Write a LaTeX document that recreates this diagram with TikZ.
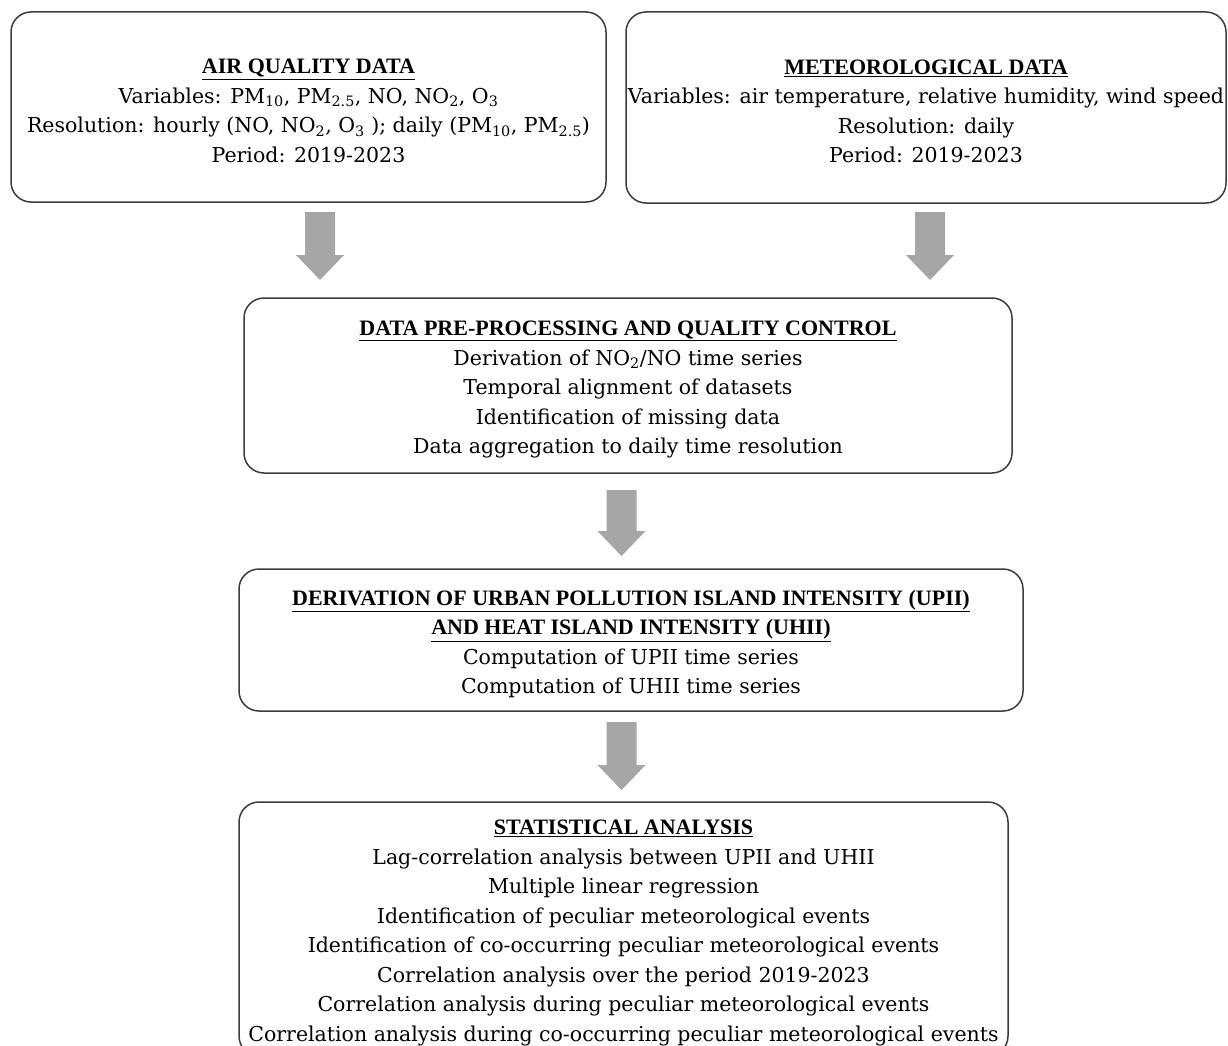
\documentclass[tikz,border=0pt]{standalone}
\usepackage{fontspec}
\setmainfont{DejaVu Serif}
\newfontfamily\titlefont{Liberation Serif}
\usetikzlibrary{calc}
\definecolor{arrowgray}{RGB}{166,166,166}
\definecolor{boxline}{RGB}{60,60,60}
\newcommand\ttl[1]{{\titlefont\bfseries\fontsize{22}{29.5}\selectfont\underline{#1}}}
\newcommand\garrow[2]{\fill[arrowgray] ($(#1)+(-15,0)$) -- ($(#1)+(15,0)$) -- ($(#2)+(15,-25)$) -- ($(#2)+(24,-25)$) -- (#2) -- ($(#2)+(-24,-25)$) -- ($(#2)+(-15,-25)$) -- cycle;}
\begin{document}
\begin{tikzpicture}[x=1pt,y=-1pt,
  box/.style={draw=boxline, line width=1.5pt, rounded corners=20pt, inner sep=0pt},
  txt/.style={align=center, font=\fontsize{20.5}{29.5}\selectfont, inner sep=0pt, yshift=-4pt}]
\useasboundingbox (0,0) rectangle (1228,1046);
\node[box, minimum width=595pt, minimum height=190pt] (air) at (308.5,107) {};
\node[box, minimum width=600pt, minimum height=191pt] (met) at (926,107.5) {};
\node[box, minimum width=768pt, minimum height=175pt] (pre) at (628,385.5) {};
\node[box, minimum width=784pt, minimum height=142pt] (der) at (631,640) {};
\node[box, minimum width=769pt, minimum height=254pt] (sta) at (623.5,929) {};
\node[txt] (airt) at (air.center) {\ttl{AIR QUALITY DATA}\\
Variables: PM\textsubscript{10}, PM\textsubscript{2.5}, NO, NO\textsubscript{2}, O\textsubscript{3}\\
Resolution: hourly (NO, NO\textsubscript{2}, O\textsubscript{3} ); daily (PM\textsubscript{10}, PM\textsubscript{2.5})\\
Period: 2019-2023};
\node[txt] (mett) at (met.center) {\ttl{METEOROLOGICAL DATA}\\
Variables: air temperature, relative humidity, wind speed\\
Resolution: daily\\
Period: 2019-2023};
\node[txt] (pret) at (pre.center) {\ttl{DATA PRE-PROCESSING AND QUALITY CONTROL}\\
Derivation of NO\textsubscript{2}/NO time series\\
Temporal alignment of datasets\\
Identification of missing data\\
Data aggregation to daily time resolution};
\node[txt] (dert) at (der.center) {\ttl{DERIVATION OF URBAN POLLUTION ISLAND INTENSITY (UPII)}\\
\ttl{AND HEAT ISLAND INTENSITY (UHII)}\\
Computation of UPII time series\\
Computation of UHII time series};
\node[txt] (stat) at (sta.center) {\ttl{STATISTICAL ANALYSIS}\\
Lag-correlation analysis between UPII and UHII\\
Multiple linear regression\\
Identification of peculiar meteorological events\\
Identification of co-occurring peculiar meteorological events\\
Correlation analysis over the period 2019-2023\\
Correlation analysis during peculiar meteorological events\\
Correlation analysis during co-occurring peculiar meteorological events};
\coordinate (a1s) at (320,212);
\coordinate (a1e) at (320,280);
\coordinate (a2s) at (930,212);
\coordinate (a2e) at (930,280);
\coordinate (a3s) at (621.5,490);
\coordinate (a3e) at (621.5,556);
\coordinate (a4s) at (621.5,722);
\coordinate (a4e) at (621.5,790);
\garrow{a1s}{a1e}
\garrow{a2s}{a2e}
\garrow{a3s}{a3e}
\garrow{a4s}{a4e}
\end{tikzpicture}
\end{document}
